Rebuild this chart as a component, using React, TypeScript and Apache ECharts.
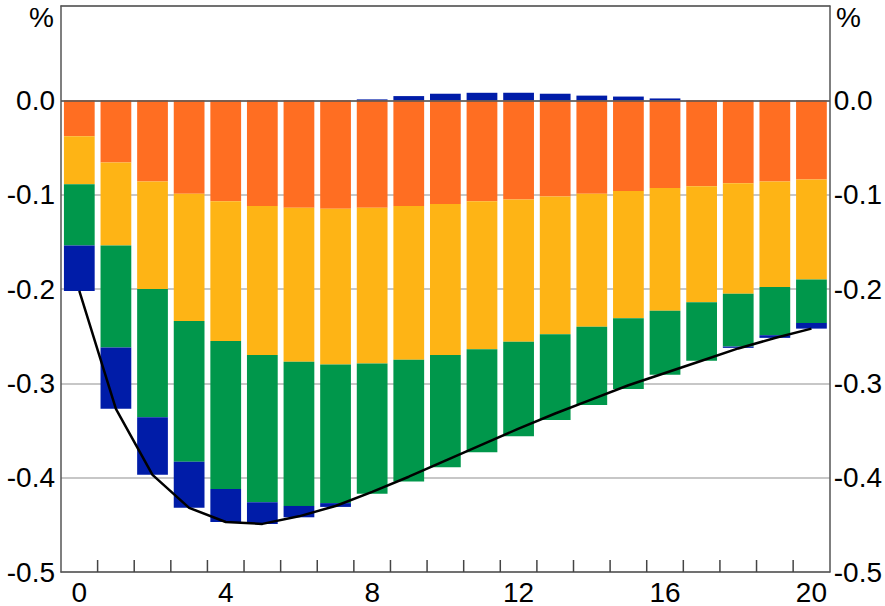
import React, { useEffect, useRef } from "react";
import * as echarts from "echarts";

const categories = ["0","1","2","3","4","5","6","7","8","9","10","11","12","13","14","15","16","17","18","19","20"];
const orangeSeries = [-0.038,-0.066,-0.086,-0.099,-0.107,-0.112,-0.114,-0.115,-0.114,-0.112,-0.110,-0.107,-0.105,-0.102,-0.099,-0.096,-0.093,-0.091,-0.088,-0.086,-0.084];
const yellowSeries = [-0.051,-0.088,-0.114,-0.135,-0.148,-0.158,-0.163,-0.165,-0.165,-0.163,-0.160,-0.157,-0.151,-0.146,-0.141,-0.135,-0.130,-0.123,-0.117,-0.112,-0.106];
const greenSeries = [-0.065,-0.108,-0.136,-0.149,-0.157,-0.156,-0.153,-0.147,-0.138,-0.129,-0.119,-0.109,-0.100,-0.091,-0.083,-0.075,-0.068,-0.062,-0.056,-0.051,-0.046];
const blueSeries = [-0.048,-0.065,-0.061,-0.049,-0.035,-0.023,-0.012,-0.004,0.001,0.0045,0.007,0.008,0.008,0.007,0.005,0.004,0.002,0,-0.0014,-0.0028,-0.006];
const totalLine = [-0.202,-0.327,-0.397,-0.432,-0.447,-0.449,-0.441,-0.430,-0.415,-0.399,-0.382,-0.365,-0.348,-0.332,-0.317,-0.302,-0.289,-0.276,-0.263,-0.252,-0.242];
const yTickLabels = ["-0.5","-0.4","-0.3","-0.2","-0.1","0.0"];

const FONT = "Liberation Sans, Arial, sans-serif";
const FS = 28;
const Y_MIN = -0.5;
const FRAME = "#555";

export default function App() {
  const ref = useRef<HTMLDivElement>(null);
  useEffect(() => {
    if (!ref.current) return;
    const chart = echarts.init(ref.current, null, { renderer: "svg" });
    const labelFmt = (v: number) => {
      const idx = Math.round((v - Y_MIN) * 10);
      return idx >= 0 && idx < yTickLabels.length ? yTickLabels[idx] : "";
    };
    const yAxisBase = {
      type: "value",
      min: Y_MIN,
      max: 0.1,
      interval: 0.1,
      axisLine: { show: true, lineStyle: { color: FRAME, width: 1.5 } },
      axisTick: { show: false },
      splitLine: { show: true, lineStyle: { color: "#b4b4b4", width: 1.5 } },
      axisLabel: { color: "#000", fontSize: FS, fontFamily: FONT, margin: 6, formatter: labelFmt },
    };
    const barBase = {
      type: "bar",
      stack: "total",
      barCategoryGap: "16%",
      xAxisIndex: 0,
      yAxisIndex: 0,
    };
    // tick marks at the boundaries between neighbouring categories
    const tickData = categories.slice(1).map((_, i) => [i + 1, Y_MIN]);
    chart.setOption({
      animation: false,
      backgroundColor: "#fff",
      grid: { left: 61, right: 53, top: 6, bottom: 31, show: false },
      xAxis: [
        {
          type: "category",
          data: categories,
          boundaryGap: true,
          position: "bottom",
          axisLine: { show: true, onZero: false, lineStyle: { color: FRAME, width: 1.5 } },
          axisTick: { show: false },
          axisLabel: { interval: 3, color: "#000", fontSize: FS, fontFamily: FONT, margin: 6 },
          splitLine: { show: false },
        },
        {
          type: "category",
          data: categories,
          boundaryGap: true,
          position: "top",
          axisLine: { show: true, onZero: false, lineStyle: { color: FRAME, width: 1.5 } },
          axisTick: { show: false },
          axisLabel: { show: false },
          splitLine: { show: false },
        },
      ],
      yAxis: [
        { ...yAxisBase, position: "left" },
        { ...yAxisBase, position: "right", splitLine: { show: false }, axisLabel: { ...yAxisBase.axisLabel, margin: 4 } },
      ],
      graphic: [
        { type: "text", right: 885 - 54, top: 3, style: { text: "%", font: `${FS}px ${FONT}`, fill: "#000" } },
        { type: "text", left: 836, top: 3, style: { text: "%", font: `${FS}px ${FONT}`, fill: "#000" } },
      ],
      series: [
        { ...barBase, name: "A", data: orangeSeries, itemStyle: { color: "#FF6E22" },
          markLine: { silent: true, symbol: "none", label: { show: false }, lineStyle: { color: FRAME, width: 1.5, type: "solid" }, data: [{ yAxis: 0 }] } },
        { ...barBase, name: "B", data: yellowSeries, itemStyle: { color: "#FEB415" } },
        { ...barBase, name: "C", data: greenSeries, itemStyle: { color: "#00974B" } },
        { ...barBase, name: "D", data: blueSeries, itemStyle: { color: "#001CA8" } },
        { type: "line", name: "Total", data: totalLine, symbol: "none", z: 5, lineStyle: { color: "#000", width: 2.5 }, itemStyle: { color: "#000" } },
        {
          type: "custom",
          name: "ticks",
          silent: true,
          z: 100,
          clip: false,
          xAxisIndex: 0,
          yAxisIndex: 0,
          data: tickData,
          encode: { x: 0, y: 1 },
          renderItem: (params: any, api: any) => {
            const p = api.coord([api.value(0), api.value(1)]);
            const bw = api.size([1, 0])[0];
            const x = p[0] - bw / 2;
            return {
              type: "rect",
              shape: { x: x - 0.75, y: p[1] - 12, width: 1.5, height: 12 },
              style: { fill: "#444" },
            };
          },
        },
      ],
    });
    return () => chart.dispose();
  }, []);
  return <div ref={ref} style={{ position: "fixed", left: 0, top: 0, width: 885, height: 606 }} />;
}
